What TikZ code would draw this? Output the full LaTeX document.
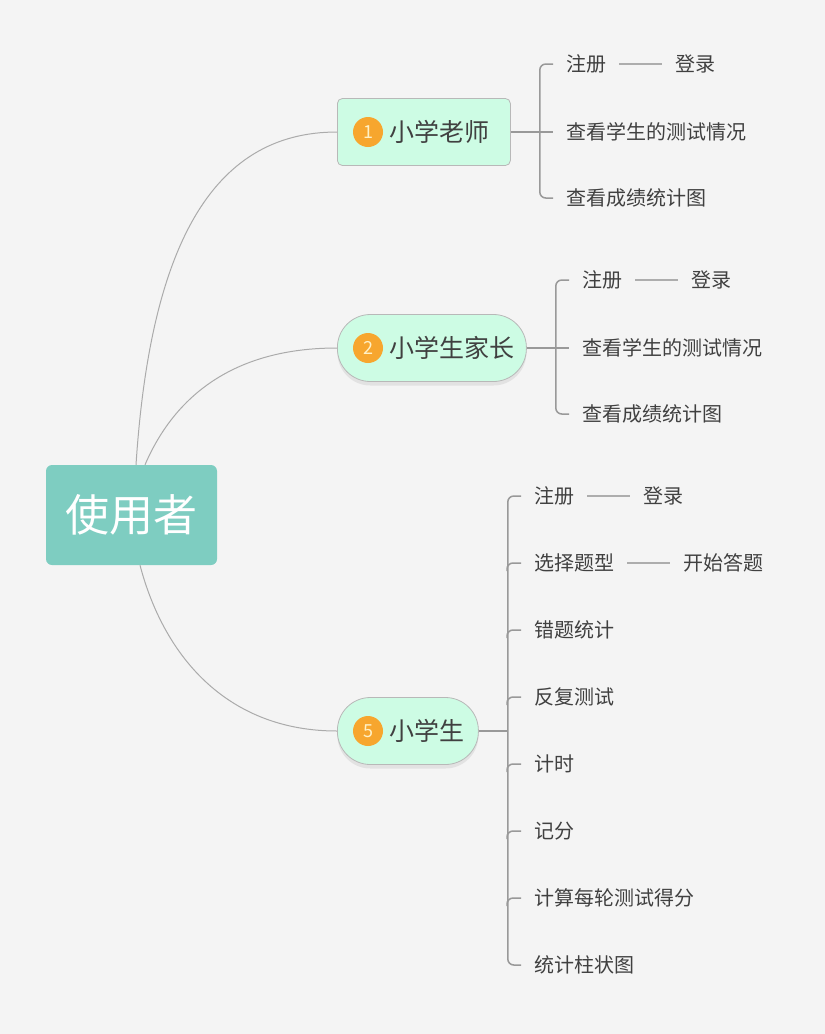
\documentclass[tikz,border=0pt]{standalone}
\usepackage{fontspec}
\setmainfont{Noto Sans CJK SC}
\usetikzlibrary{positioning,shadows}
\definecolor{bgc}{HTML}{F4F4F4}
\definecolor{rootc}{HTML}{7ECDC1}
\definecolor{mintc}{HTML}{CDFCE4}
\definecolor{boxc}{HTML}{B8B8B8}
\definecolor{badgec}{HTML}{F7A62E}
\definecolor{numc}{HTML}{FFF1C6}
\definecolor{txtc}{HTML}{404040}
\definecolor{linec}{HTML}{999999}
\definecolor{curvec}{HTML}{ABABAB}

\begin{document}
\begin{tikzpicture}[x=1pt,y=-1pt,
    root/.style={rectangle, rounded corners=6pt, fill=rootc, text=white, font=\fontsize{44}{44}\selectfont, minimum width=171pt, minimum height=100pt, inner sep=0pt},
    topic/.style={rectangle, rounded corners=5pt, fill=mintc, draw=boxc, line width=0.8pt, text=txtc, font=\fontsize{25}{25}\selectfont, minimum height=67pt, inner xsep=15pt, inner ysep=0pt, align=left, anchor=west},
    pill/.style={topic, rounded corners=33pt, drop shadow={shadow xshift=0pt, shadow yshift=-4pt, opacity=0.15}},
    badge/.style={circle, fill=badgec, text=numc, font=\fontsize{18}{18}\selectfont, minimum size=30pt, inner sep=0pt},
    leaf/.style={text=txtc, font=\fontsize{20}{20}\selectfont, inner xsep=13pt, inner ysep=2pt, anchor=west},
    curve/.style={draw=curvec, line width=1pt},
    brace/.style={draw=linec, line width=1.5pt, rounded corners=6pt},
    dash line/.style={draw=linec!80, line width=1.2pt}]

    \useasboundingbox (0,0) rectangle (825,1034);
    \fill[bgc] (0,0) rectangle (825,1034);

    % root
    \node[root] (u) at (131.5,515) {使用者};

    % topics
    \node[topic, text width=143pt] (t1) at (337,132) {\hspace*{37pt}小学老师};
    \node[pill, text width=159pt] (t2) at (337,348) {\hspace*{37pt}小学生家长};
    \node[pill, text width=111pt] (t5) at (337,731) {\hspace*{37pt}小学生};

    \foreach \x/ \w in {t1/1, t2/2, t5/5}{
        \node[badge] (b\w) at ([xshift=31pt]\x.west) {\w};
    }

    % root to topics
    \draw[curve] ([xshift=4.5pt]u.north) .. controls (150,250) and (210,132) .. (t1.west);
    \draw[curve] ([xshift=13.5pt]u.north) .. controls (175,395) and (235,348) .. (t2.west);
    \draw[curve] ([xshift=8.5pt]u.south) .. controls (165,660) and (230,731) .. (t5.west);

    % first topic
    \coordinate (c1) at ([xshift=29pt]t1.east);
    \foreach \n/ \y/ \t in {a/64/注册, b/132/查看学生的测试情况, c/198/查看成绩统计图}{
        \node[leaf] (t1\n) at (553,\y) {\t};
    }
    \node[leaf, right=43pt of t1a] (t1d) {登录};
    \draw[brace] (t1a.west) -| (c1) |- (t1c.west);
    \draw[brace] (t1.east) -- (t1b.west);
    \draw[dash line] (t1a) -- (t1d);

    % second topic
    \coordinate (c2) at ([xshift=29pt]t2.east);
    \foreach \n/ \y/ \t in {a/280/注册, b/348/查看学生的测试情况, c/414/查看成绩统计图}{
        \node[leaf] (t2\n) at (569,\y) {\t};
    }
    \node[leaf, right=43pt of t2a] (t2d) {登录};
    \draw[brace] (t2a.west) -| (c2) |- (t2c.west);
    \draw[brace] (t2.east) -- (t2b.west);
    \draw[dash line] (t2a) -- (t2d);

    % third topic
    \coordinate (c5) at ([xshift=29pt]t5.east);
    \foreach \n/ \y/ \t in {a/496/注册, b/563/选择题型, c/630/错题统计, d/697/反复测试, e/764/计时, f/831/记分, g/898/计算每轮测试得分, h/965/统计柱状图}{
        \node[leaf] (t5\n) at (521,\y) {\t};
    }
    \node[leaf, right=43pt of t5a] (t5i) {登录};
    \node[leaf, right=43pt of t5b] (t5j) {开始答题};
    \draw[brace] (t5a.west) -| (c5) |- (t5h.west);
    \draw[brace] (t5.east) -- (c5);
    \foreach \n in {b,c,d,e,f,g}{
        \draw[brace] (t5\n.west) -| ++(-14,8);
    }
    \draw[dash line] (t5a) -- (t5i);
    \draw[dash line] (t5b) -- (t5j);

\end{tikzpicture}
\end{document}
